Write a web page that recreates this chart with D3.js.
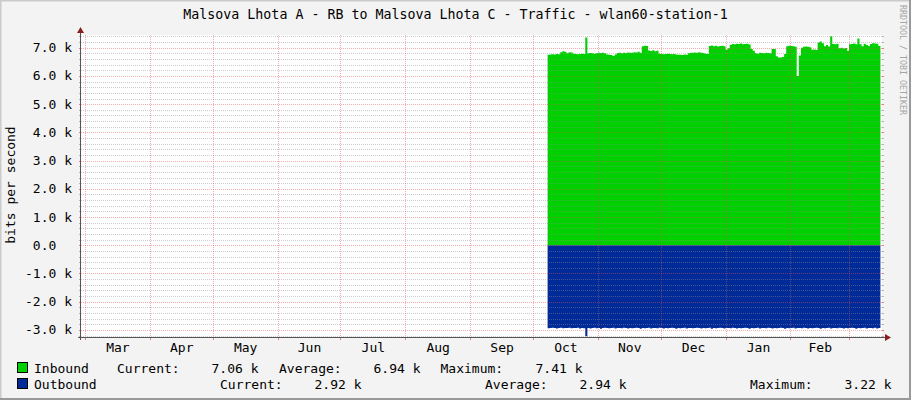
<!DOCTYPE html>
<html lang="en">
<head>
    <meta charset="utf-8" />
    <title>Malsova Lhota A - RB to Malsova Lhota C - Traffic</title>
    <script src="https://cdn.jsdelivr.net/npm/d3@7"></script>
    <style>
        body {
            margin: 0;
            background: #f3f3f3;
        }
        svg text {
            font-family: "DejaVu Sans Mono", monospace;
            font-size: 13px;
            fill: #000;
        }
    </style>
</head>
<body>
<svg id="chart" width="911" height="400"></svg>

<script>
    // ---- data (kbit/s, one sample per day starting at firstSample) ----
    const title = "Malsova Lhota A - RB to Malsova Lhota C - Traffic - wlan60-station-1";
    const firstSample = Date.UTC(2022, 9, 8);
    const rangeStart = Date.UTC(2022, 1, 27, 2);
    const rangeEnd = Date.UTC(2023, 2, 16, 18);

    const inbound = [
        6.75, 6.76, 6.77, 6.76, 6.78, 6.77, 6.84, 6.87, 6.86, 6.80,
        6.84, 6.83, 6.79, 6.78, 6.77, 6.78, 6.79, 6.78, 7.36, 6.80,
        6.81, 6.80, 6.79, 6.80, 6.82, 6.81, 6.82, 6.80, 6.76, 6.75,
        6.74, 6.71, 6.76, 6.81, 6.82, 6.80, 6.82, 6.81, 6.83, 6.82,
        6.82, 6.84, 6.83, 6.86, 6.82, 7.05, 7.07, 7.06, 6.90, 6.88,
        6.91, 6.87, 6.89, 6.79, 6.78, 6.77, 6.78, 6.79, 6.78, 6.77,
        6.78, 6.76, 6.75, 6.75, 6.74, 6.76, 6.75, 6.80, 6.82, 6.82,
        6.83, 6.82, 6.84, 6.82, 6.81, 6.79, 6.78, 7.06, 7.08, 7.05,
        7.07, 7.04, 7.06, 7.07, 7.05, 6.93, 6.98, 7.10, 7.13, 7.12,
        7.14, 7.13, 7.15, 7.12, 7.13, 7.14, 7.11, 6.95, 6.89, 6.80,
        6.79, 6.82, 6.81, 6.80, 6.82, 6.81, 6.80, 6.95, 6.95, 6.70,
        6.65, 6.65, 6.67, 6.78, 7.05, 7.07, 7.06, 7.05, 7.03, 6.00,
        6.72, 7.00, 7.03, 7.04, 7.03, 7.02, 6.93, 6.94, 6.92, 7.18,
        7.22, 7.16, 7.05, 7.10, 7.04, 7.41, 7.13, 7.12, 7.14, 6.98,
        7.00, 6.97, 6.99, 6.89, 7.12, 7.13, 7.15, 7.12, 7.33, 7.12,
        7.05, 7.14, 7.10, 7.06, 7.13, 7.16, 7.15, 7.14, 7.06
    ];

    // drawn below zero
    const outbound = [
        2.94, 2.93, 2.92, 2.93, 2.95, 2.93, 2.92, 2.94, 2.93, 2.93,
        2.92, 2.94, 2.93, 2.93, 2.92, 2.95, 2.93, 2.94, 3.22, 2.93,
        2.95, 2.93, 2.92, 2.94, 2.93, 2.96, 2.93, 2.92, 2.93, 2.94,
        2.93, 2.92, 2.95, 2.93, 2.93, 2.94, 2.92, 2.93, 2.95, 2.93,
        2.94, 2.93, 2.92, 2.93, 2.96, 2.93, 2.94, 2.93, 2.92, 2.95,
        2.93, 2.93, 2.94, 2.92, 2.93, 2.95, 2.93, 2.94, 2.93, 2.92,
        2.93, 2.96, 2.93, 2.94, 2.93, 2.92, 2.95, 2.93, 2.93, 2.94,
        2.93, 2.92, 2.93, 2.95, 2.93, 2.94, 2.93, 2.92, 2.96, 2.93,
        2.94, 2.93, 2.92, 2.93, 2.95, 2.93, 2.93, 2.94, 2.92, 2.93,
        2.95, 2.93, 2.94, 2.93, 2.92, 2.93, 2.96, 2.93, 2.94, 2.93,
        2.92, 2.95, 2.93, 2.93, 2.94, 2.92, 2.93, 2.95, 2.93, 2.94,
        2.93, 2.92, 2.93, 2.96, 2.93, 2.94, 2.93, 2.92, 2.95, 2.93,
        2.93, 2.94, 2.92, 2.93, 2.95, 2.93, 2.94, 2.93, 2.92, 2.93,
        2.96, 2.93, 2.94, 2.93, 2.92, 2.95, 2.93, 2.93, 2.94, 2.92,
        2.93, 2.95, 2.93, 2.94, 2.93, 2.92, 2.93, 2.96, 2.93, 2.94,
        2.93, 2.92, 2.95, 2.93, 2.93, 2.94, 2.92, 2.95, 2.93
    ];

    const yMajorTicks = [-3, -2, -1, 0, 1, 2, 3, 4, 5, 6, 7];
    const yTickLabels = ["-3.0 k", "-2.0 k", "-1.0 k", "0.0\u00a0\u00a0", "1.0 k", "2.0 k",
                         "3.0 k", "4.0 k", "5.0 k", "6.0 k", "7.0 k"];
    const monthLabels = ["Mar", "Apr", "May", "Jun", "Jul", "Aug", "Sep", "Oct", "Nov", "Dec", "Jan", "Feb"];

    const legendNames = ["Inbound", "Outbound"];
    const legendColors = ["#00cf00", "#002a97"];
    const legendCurrent = ["7.06 k", "2.92 k"];
    const legendAverage = ["6.94 k", "2.94 k"];
    const legendMaximum = ["7.41 k", "3.22 k"];

    // ---- layout ----
    const W = 911, H = 400;
    const plot = { left: 81, right: 882, top: 35, bottom: 337 };

    const svg = d3.select("#chart");

    // canvas + 3d-ish frame like rrdtool
    svg.append("rect").attr("width", W).attr("height", H).attr("fill", "#f3f3f3");
    svg.append("path").attr("d", `M0.5,${H} V0.5 H${W}`).attr("fill", "none")
        .attr("stroke", "#cbcbcb").attr("stroke-width", 2);
    svg.append("path").attr("d", `M0,${H - 1} H${W - 1} V0`).attr("fill", "none")
        .attr("stroke", "#999").attr("stroke-width", 2);

    // plot background
    svg.append("rect")
        .attr("x", plot.left).attr("y", plot.top)
        .attr("width", plot.right - plot.left).attr("height", plot.bottom - plot.top)
        .attr("fill", "#fff");

    const x = d3.scaleUtc().domain([rangeStart, rangeEnd]).range([plot.left, plot.right]);
    const y = d3.scaleLinear().domain([-3.25, 7.45]).range([plot.bottom, plot.top]);

    const dayMs = 864e5;
    const dates = inbound.map((_, i) => new Date(firstSample + i * dayMs));

    // ---- data areas (step per sample, like rrd) ----
    const stepArea = d3.area()
        .curve(d3.curveStepAfter)
        .x(d => x(d.t))
        .y0(y(0));

    // add one trailing point so the last sample gets its full width
    const inPts = inbound.map((v, i) => ({ t: dates[i], v }));
    inPts.push({ t: new Date(+dates[dates.length - 1] + dayMs), v: inbound[inbound.length - 1] });
    const outPts = outbound.map((v, i) => ({ t: dates[i], v: -v }));
    outPts.push({ t: new Date(+dates[dates.length - 1] + dayMs), v: -outbound[outbound.length - 1] });

    svg.append("path").datum(inPts)
        .attr("fill", legendColors[0])
        .attr("d", stepArea.y1(d => y(d.v)));
    svg.append("path").datum(outPts)
        .attr("fill", legendColors[1])
        .attr("d", stepArea.y1(d => y(d.v)));

    // ---- grid ----
    const grid = svg.append("g");
    const minorTicks = d3.range(-16, 38).map(d => d / 5).filter(v => Math.abs(v - Math.round(v)) > 1e-6);

    minorTicks.forEach(v => {
        const yy = Math.round(y(v)) + 0.5;
        grid.append("line")
            .attr("x1", plot.left).attr("x2", plot.right).attr("y1", yy).attr("y2", yy)
            .attr("stroke", "rgba(143,143,143,0.45)").attr("stroke-dasharray", "1,1");
        [[plot.left - 2, plot.left], [plot.right, plot.right + 2]].forEach(([a, b]) =>
            grid.append("line").attr("x1", a).attr("x2", b).attr("y1", yy).attr("y2", yy)
                .attr("stroke", "rgba(143,143,143,0.6)"));
    });
    yMajorTicks.forEach(v => {
        const yy = Math.round(y(v)) + 0.5;
        grid.append("line")
            .attr("x1", plot.left).attr("x2", plot.right).attr("y1", yy).attr("y2", yy)
            .attr("stroke", "rgba(230,80,80,0.45)").attr("stroke-dasharray", "1,1");
        [[plot.left - 2, plot.left], [plot.right, plot.right + 2]].forEach(([a, b]) =>
            grid.append("line").attr("x1", a).attr("x2", b).attr("y1", yy).attr("y2", yy)
                .attr("stroke", "rgba(222,48,48,0.6)"));
    });

    const months = d3.utcMonth.range(d3.utcMonth.ceil(rangeStart), rangeEnd);
    months.forEach(m => {
        const xx = Math.round(x(m)) + 0.5;
        grid.append("line")
            .attr("x1", xx).attr("x2", xx).attr("y1", plot.top).attr("y2", plot.bottom)
            .attr("stroke", "rgba(230,80,80,0.45)").attr("stroke-dasharray", "1,1");
        grid.append("line")
            .attr("x1", xx).attr("x2", xx).attr("y1", plot.bottom).attr("y2", plot.bottom + 3)
            .attr("stroke", "rgba(222,48,48,0.6)");
    });

    // ---- axes ----
    svg.append("line")
        .attr("x1", plot.left - 3).attr("x2", plot.right + 4)
        .attr("y1", plot.bottom + 0.5).attr("y2", plot.bottom + 0.5)
        .attr("stroke", "#555");
    svg.append("line")
        .attr("x1", plot.left - 0.5).attr("x2", plot.left - 0.5)
        .attr("y1", plot.bottom + 3).attr("y2", plot.top - 3)
        .attr("stroke", "#555");
    // arrows
    svg.append("path")
        .attr("d", `M${plot.right + 3},${plot.bottom - 3} L${plot.right + 9},${plot.bottom + 0.5} L${plot.right + 3},${plot.bottom + 4} Z`)
        .attr("fill", "#8b1f1f");
    svg.append("path")
        .attr("d", `M${plot.left - 4},${plot.top - 2} L${plot.left - 0.5},${plot.top - 8} L${plot.left + 3},${plot.top - 2} Z`)
        .attr("fill", "#8b1f1f");

    // y tick labels
    svg.append("g").selectAll("text")
        .data(yMajorTicks)
        .join("text")
        .attr("x", 72)
        .attr("y", d => y(d) + 4.5)
        .attr("text-anchor", "end")
        .style("white-space", "pre")
        .text((d, i) => yTickLabels[i]);

    // month labels, centred in each month
    svg.append("g").selectAll("text")
        .data(months.slice(0, monthLabels.length))
        .join("text")
        .attr("x", m => x(new Date((+m + +d3.utcMonth.offset(m, 1)) / 2)) + 0.5)
        .attr("y", 351.5)
        .attr("text-anchor", "middle")
        .text((m, i) => monthLabels[i]);

    // title and y title
    svg.append("text")
        .attr("x", W / 2).attr("y", 19)
        .attr("text-anchor", "middle")
        .style("font-size", "13.3px")
        .text(title);
    svg.append("text")
        .attr("transform", "translate(15,185) rotate(-90)")
        .attr("text-anchor", "middle")
        .text("bits per second");

    // rrdtool watermark
    svg.append("text")
        .attr("transform", "translate(899.5,5) rotate(90)")
        .style("font-size", "8.3px")
        .style("fill", "#a5a5a5")
        .text("RRDTOOL / TOBI OETIKER");

    // ---- legend ----
    const legendRows = [
        { y: 373, cur: 117, curV: 258.5, avg: 279, avgV: 420.5, max: 440.5, maxV: 582.5 },
        { y: 389, cur: 220, curV: 361.5, avg: 485, avgV: 626.5, max: 750, maxV: 891.5 }
    ];
    legendRows.forEach((r, i) => {
        const g = svg.append("g");
        g.append("rect")
            .attr("x", 17.5).attr("y", r.y - 10.5).attr("width", 10).attr("height", 10)
            .attr("fill", legendColors[i]).attr("stroke", "#000");
        g.append("text").attr("x", 34).attr("y", r.y).text(legendNames[i]);
        g.append("text").attr("x", r.cur).attr("y", r.y).text("Current:");
        g.append("text").attr("x", r.curV).attr("y", r.y).attr("text-anchor", "end").text(legendCurrent[i]);
        g.append("text").attr("x", r.avg).attr("y", r.y).text("Average:");
        g.append("text").attr("x", r.avgV).attr("y", r.y).attr("text-anchor", "end").text(legendAverage[i]);
        g.append("text").attr("x", r.max).attr("y", r.y).text("Maximum:");
        g.append("text").attr("x", r.maxV).attr("y", r.y).attr("text-anchor", "end").text(legendMaximum[i]);
    });
</script>
</body>
</html>
